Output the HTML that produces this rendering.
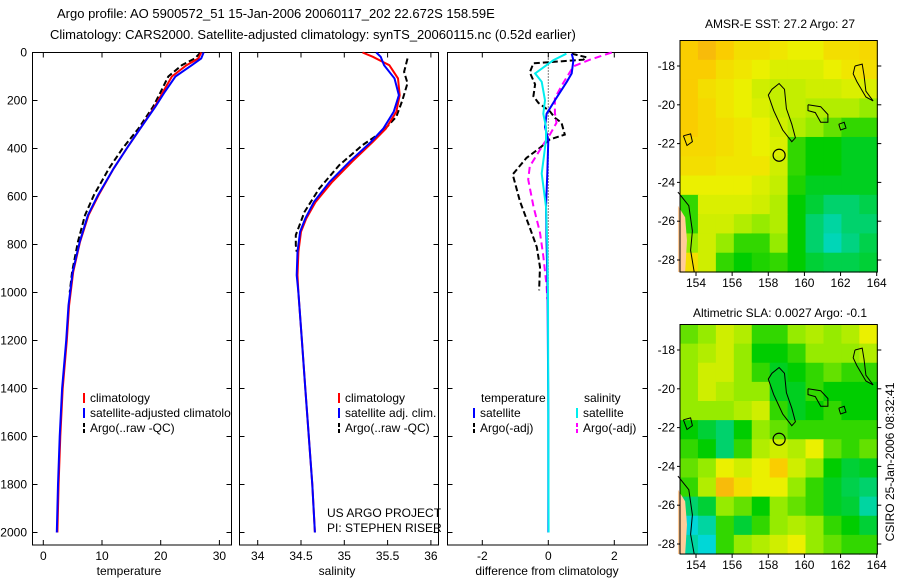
<!DOCTYPE html>
<html><head><meta charset="utf-8"><style>
body{margin:0;background:#fff}
svg{display:block;font-family:"Liberation Sans",sans-serif}
text{fill:#000}
</style></head><body>
<svg id="c" width="900" height="580" viewBox="0 0 900 580">
<text x="57" y="18" font-size="13">Argo profile: AO 5900572_51 15-Jan-2006 20060117_202 22.672S 158.59E</text>
<text x="50" y="39" font-size="13">Climatology: CARS2000. Satellite-adjusted climatology: synTS_20060115.nc (0.52d earlier)</text>
<text x="780" y="28" font-size="12" text-anchor="middle">AMSR-E SST: 27.2 Argo: 27</text>
<text x="780" y="317" font-size="12" text-anchor="middle">Altimetric SLA: 0.0027 Argo: -0.1</text>
<text transform="translate(894,462) rotate(-90)" font-size="12" text-anchor="middle">CSIRO 25-Jan-2006 08:32:41</text>
<text x="129" y="575" font-size="12" text-anchor="middle">temperature</text>
<text x="337" y="575" font-size="12" text-anchor="middle">salinity</text>
<text x="547" y="575" font-size="12" text-anchor="middle">difference from climatology</text>
<text x="327" y="517" font-size="12">US ARGO PROJECT</text>
<text x="327" y="532" font-size="12">PI: STEPHEN RISER</text>
</svg>
<script>
// ---- profile data ----
const tDepth=[0,25,53,100,164,226,317,400,483,595,678,789,914,1053,1200,1400,1600,1800,2000];
const tClim=[26.9,26.4,24.4,21.9,20.4,19.0,16.5,14.2,12.0,9.4,7.7,6.25,5.1,4.4,4.0,3.3,2.9,2.6,2.4];
const tSat=[27.3,26.9,25.3,22.5,20.7,19.1,16.5,14.2,12.0,9.3,7.6,6.2,5.0,4.3,3.9,3.2,2.8,2.5,2.3];
const tArgoDepth=[0,25,53,100,164,226,317,400,483,595,678,789,914,1000];
const tArgo=[26.8,25.8,23.6,21.3,20.0,18.7,16.2,13.5,11.2,8.6,7.1,5.9,4.9,4.5];
const sDepth=[0,18,53,108,178,247,317,372,455,539,622,692,747,830,928,1000,1200,1400,1600,1800,2000];
const sClim=[35.21,35.33,35.52,35.62,35.64,35.60,35.48,35.33,35.09,34.86,34.67,34.56,34.50,34.47,34.46,34.47,34.51,34.55,34.59,34.63,34.66];
const sSat=[35.37,35.42,35.46,35.58,35.63,35.57,35.45,35.31,35.06,34.83,34.65,34.55,34.49,34.46,34.45,34.47,34.51,34.55,34.59,34.63,34.66];
const sArgoDepth=[25,81,128,200,268,330,386,470,567,664,761,803,830];
const sArgo=[35.73,35.69,35.73,35.67,35.60,35.44,35.21,34.94,34.71,34.54,34.44,34.44,34.45];
const dDepth=[5,32,87,122,199,255,310,365,504,643,800,1000,1500,2000];
const dTempSat=[0.71,0.76,0.71,0.56,0.20,-0.05,-0.1,0,-0.03,-0.07,-0.05,-0.02,0,0];
const dSalSat=[0.55,0.15,-0.4,-0.2,-0.1,-0.15,-0.07,-0.07,-0.2,-0.07,-0.03,-0.01,0,0.01];
const dTArgoDepth=[5,20,30,37,45,83,133,182,210,245,272,293,342,362,397,439,508,619,730,811,894,991];
const dTArgo=[0.71,1.16,1.06,0.35,-0.45,-0.56,-0.4,-0.45,-0.3,0.05,0.2,0.4,0.5,0.05,-0.25,-0.66,-1.08,-0.86,-0.56,-0.35,-0.25,-0.28];
const dSArgoDepth=[0,30,58,128,190,252,293,342,383,474,529,640,751,848,973,1028];
const dSArgo=[1.92,1.26,0.76,0.45,0.2,0.2,0.25,0.05,-0.15,-0.56,-0.61,-0.45,-0.25,-0.15,-0.05,-0.03];
const depthTicks=[0,200,400,600,800,1000,1200,1400,1600,1800,2000];
const tTicks=[0,10,20,30];
const sTicks=[34,34.5,35,35.5,36];
const dTicks=[-2,0,2];
// ---- map data (0..1 colour index, rows top->bottom) ----
const sstGrid=[
[0.85,0.9,0.85,0.8,0.8,0.78,0.75,0.75,0.8,0.8,0.82],
[0.85,0.85,0.8,0.78,0.75,0.72,0.72,0.72,0.75,0.78,0.8],
[0.85,0.8,0.78,0.75,0.7,0.68,0.68,0.7,0.7,0.72,0.72],
[0.85,0.82,0.78,0.75,0.72,0.68,0.68,0.65,0.65,0.65,0.6],
[0.85,0.82,0.8,0.78,0.75,0.7,0.65,0.6,0.55,0.5,0.5],
[0.82,0.82,0.8,0.78,0.75,0.72,0.5,0.45,0.45,0.42,0.42],
[0.8,0.8,0.78,0.78,0.78,0.7,0.5,0.45,0.45,0.42,0.42],
[0.75,0.75,0.75,0.75,0.72,0.68,0.48,0.42,0.42,0.42,0.42],
[0.5,0.72,0.72,0.72,0.7,0.65,0.45,0.4,0.35,0.35,0.38],
[0.5,0.7,0.7,0.65,0.6,0.65,0.45,0.35,0.3,0.35,0.35],
[0.6,0.7,0.6,0.5,0.5,0.6,0.45,0.35,0.28,0.33,0.38],
[0.8,0.7,0.5,0.45,0.48,0.5,0.45,0.4,0.38,0.38,0.4]];
const slaGrid=[
[0.55,0.6,0.7,0.65,0.5,0.5,0.6,0.65,0.6,0.65,0.75],
[0.6,0.65,0.7,0.6,0.45,0.45,0.5,0.6,0.6,0.6,0.65],
[0.6,0.7,0.7,0.6,0.5,0.42,0.45,0.5,0.55,0.5,0.5],
[0.6,0.7,0.65,0.6,0.6,0.42,0.42,0.5,0.45,0.45,0.45],
[0.6,0.6,0.6,0.65,0.7,0.5,0.42,0.45,0.5,0.45,0.45],
[0.45,0.4,0.35,0.45,0.6,0.55,0.5,0.5,0.5,0.5,0.5],
[0.5,0.45,0.35,0.5,0.65,0.7,0.65,0.75,0.55,0.5,0.55],
[0.55,0.6,0.75,0.7,0.75,0.85,0.7,0.6,0.45,0.4,0.42],
[0.5,0.65,0.9,0.8,0.75,0.75,0.6,0.5,0.42,0.38,0.35],
[0.35,0.4,0.6,0.55,0.45,0.6,0.55,0.5,0.42,0.4,0.3],
[0.25,0.3,0.5,0.4,0.5,0.6,0.65,0.6,0.5,0.45,0.4],
[0.3,0.25,0.5,0.6,0.65,0.7,0.75,0.6,0.55,0.5,0.5]];
const lonTicks=[154,156,158,160,162,164];
const latTicks=[-18,-20,-22,-24,-26,-28];
const argoLon=158.6, argoLat=-22.6;

const NS='http://www.w3.org/2000/svg';
const svg=document.getElementById('c');
function mk(tag,attrs,parent){const e=document.createElementNS(NS,tag);for(const k in attrs)e.setAttribute(k,attrs[k]);(parent||svg).appendChild(e);return e;}

// profile panels
const PT=52.5, PB=545, D0Y=52.5, DPX=0.24;
const yD=d=>D0Y+d*DPX;
function panel(x0,x1,xf,ticks,name){
  const g=mk('g',{});
  
  
  const r=mk('rect',{x:x0,y:PT,width:x1-x0,height:PB-PT,fill:'none',stroke:'#000','stroke-width':1},g);
  
  
  ticks.forEach(t=>{const x=xf(t);
    mk('line',{x1:x,x2:x,y1:PT,y2:PT+5,stroke:'#000'},g);
    mk('line',{x1:x,x2:x,y1:PB,y2:PB-5,stroke:'#000'},g);
    const tx=mk('text',{x:x,y:560,'font-size':12,'text-anchor':'middle'},g);tx.textContent=t;
    
    });
  depthTicks.forEach(d=>{const y=yD(d);
    mk('line',{x1:x0,x2:x0+5,y1:y,y2:y,stroke:'#000'},g);
    mk('line',{x1:x1,x2:x1-5,y1:y,y2:y,stroke:'#000'},g);});
  return {g,xf};
}
function line(p,vals,deps,color,dash,nm,w){
  const pts=vals.map((v,i)=>p.xf(v).toFixed(1)+','+yD(deps[i]).toFixed(1)).join(' ');
  const l=mk('polyline',{points:pts,fill:'none',stroke:color,'stroke-width':w||2,'stroke-dasharray':dash||'none'},p.g);
  
  
}
depthTicks.forEach(d=>{const t=mk('text',{x:27,y:yD(d)+4,'font-size':12,'text-anchor':'end'});t.textContent=d;
  
  });

const p1=panel(32.5,231.5,v=>43.3+v*5.87,tTicks,'temperature-panel');
line(p1,tArgo,tArgoDepth,'#000','6,3','temperature-argo-line');
line(p1,tClim,tDepth,'#f00',null,'temperature-climatology-line');
line(p1,tSat,tDepth,'#00f',null,'temperature-satellite-line');

const p2=panel(239.5,438.5,v=>257.7+(v-34)*86.6,sTicks,'salinity-panel');
line(p2,sArgo,sArgoDepth,'#000','6,3','salinity-argo-line');
line(p2,sClim,sDepth,'#f00',null,'salinity-climatology-line');
line(p2,sSat,sDepth,'#00f',null,'salinity-satellite-line');

const p3=panel(447.5,647.5,v=>548.3+v*33,dTicks,'difference-panel');
mk('line',{x1:548.3,x2:548.3,y1:PT,y2:yD(1000),stroke:'#000','stroke-dasharray':'1,2'},p3.g);
line(p3,dTArgo,dTArgoDepth,'#000','6,3','temp-argo-diff-line');
line(p3,dSArgo,dSArgoDepth,'#f0f','7,4','sal-argo-diff-line');
line(p3,dTempSat,dDepth,'#00f',null,'temp-satellite-diff-line');
line(p3,dSalSat,dDepth,'#0ee',null,'sal-satellite-diff-line');

// legends
function leg(x,y,color,dash,label,nm){
  const g=mk('g',{});
  
  
  mk('line',{x1:x,x2:x,y1:y-9,y2:y+1,stroke:color,'stroke-width':2,'stroke-dasharray':dash||'none'},g);
  const t=mk('text',{x:x+6,y:y,'font-size':12},g);t.textContent=label;
}
const clip=mk('clipPath',{id:'cl1'});mk('rect',{x:32,y:52,width:200,height:494},clip);
leg(84,402,'#f00',null,'climatology','legend-temp-climatology');
const lg=mk('g',{'clip-path':'url(#cl1)'});


mk('line',{x1:84,x2:84,y1:408,y2:418,stroke:'#00f','stroke-width':2},lg);
const lt=mk('text',{x:90,y:417,'font-size':12},lg);lt.textContent='satellite-adjusted climatology';
leg(84,432,'#000','4,2','Argo(..raw -QC)','legend-temp-argo');
leg(339,402,'#f00',null,'climatology','legend-sal-climatology');
leg(339,417,'#00f',null,'satellite adj. clim.','legend-sal-satellite');
leg(339,432,'#000','4,2','Argo(..raw -QC)','legend-sal-argo');
const th=mk('text',{x:481,y:402,'font-size':12});th.textContent='temperature';


const sh=mk('text',{x:584,y:402,'font-size':12});sh.textContent='salinity';


leg(474,417,'#00f',null,'satellite','legend-temp-sat-diff');
leg(474,432,'#000','4,2','Argo(-adj)','legend-temp-argo-diff');
leg(577,417,'#0ee',null,'satellite','legend-sal-sat-diff');
leg(577,432,'#f0f','4,2','Argo(-adj)','legend-sal-argo-diff');

// maps
const stops=[[0,[0,90,255]],[0.25,[0,215,215]],[0.45,[0,205,0]],[0.6,[150,235,0]],[0.75,[235,240,0]],[0.85,[250,205,0]],[1,[245,150,30]]];
function cmap(v){for(let i=1;i<stops.length;i++){if(v<=stops[i][0]){const a=stops[i-1],b=stops[i];const f=(v-a[0])/(b[0]-a[0]);
  return 'rgb('+a[1].map((c,k)=>Math.round(c+(b[1][k]-c)*f)).join(',')+')';}}return 'rgb(245,150,30)';}
const islands=[
 [[158.2,-19.2],[158.6,-18.9],[158.9,-19.2],[159.0,-20.2],[159.3,-21.0],[159.5,-21.7],[159.3,-21.9],[158.8,-21.3],[158.3,-20.3],[158.0,-19.5],[158.2,-19.2]],
 [[160.2,-20.0],[160.9,-20.1],[161.3,-20.5],[161.3,-20.9],[160.9,-20.9],[160.6,-20.4],[160.2,-20.3],[160.2,-20.0]],
 [[162.8,-18.0],[163.2,-17.9],[163.3,-18.5],[163.4,-19.3],[163.8,-19.8],[163.4,-19.6],[162.9,-18.8],[162.7,-18.4],[162.8,-18.0]],
 [[161.9,-21.0],[162.2,-20.9],[162.3,-21.2],[162.0,-21.3],[161.9,-21.0]],
 [[153.3,-21.6],[153.7,-21.5],[153.8,-21.9],[153.5,-22.1],[153.3,-21.6]],
 [[153.0,-24.5],[153.6,-25.2],[153.8,-26.5],[153.7,-27.5],[153.9,-28.8]]];
function map(top,bot,grid,name){
  const g=mk('g',{});
  
  
  const L=680,R=877.3;
  const lonX=l=>696+(l-154)*18.07;
  const lat18=top+25.5;
  const latY=a=>lat18+(-18-a)*19.4;
  const rows=grid.length, cols=grid[0].length, cw=(R-L)/cols, ch=(bot-top)/rows;
  grid.forEach((row,r)=>row.forEach((v,c)=>{
    const cell=mk('rect',{x:(L+c*cw).toFixed(2),y:(top+r*ch).toFixed(2),width:(cw+0.6).toFixed(2),height:(ch+0.6).toFixed(2),fill:cmap(v)},g);
    
    
  }));
  mk('polygon',{points:[[153.0,-25.2],[153.4,-25.8],[153.5,-27],[153.4,-28.8],[153.0,-28.8]].map(p=>lonX(p[0])+','+Math.min(bot,latY(p[1]))).join(' '),fill:'#fc9'},g);
  islands.forEach(isl=>mk('polyline',{points:isl.map(p=>lonX(p[0]).toFixed(1)+','+Math.min(bot,latY(p[1])).toFixed(1)).join(' '),fill:'none',stroke:'#000','stroke-width':1},g));
  const ci=mk('circle',{cx:lonX(argoLon),cy:latY(argoLat),r:6,fill:'none',stroke:'#000','stroke-width':1.2},g);
  
  
  mk('rect',{x:L,y:top,width:R-L,height:bot-top,fill:'none',stroke:'#000'},g);
  lonTicks.forEach(l=>{const x=lonX(l);mk('line',{x1:x,x2:x,y1:bot,y2:bot+4,stroke:'#000'},g);
    const t=mk('text',{x:x,y:bot+15,'font-size':12,'text-anchor':'middle'},g);t.textContent=l;
    
    });
  latTicks.forEach(a=>{const y=latY(a);mk('line',{x1:R,x2:R+4,y1:y,y2:y,stroke:'#000'},g);
    mk('line',{x1:L,x2:L-3,y1:y,y2:y,stroke:'#000'},g);
    const t=mk('text',{x:675,y:y+4,'font-size':12,'text-anchor':'end'},g);t.textContent=a;
    
    });
}
map(40.5,272,sstGrid,'sst-map');
map(324.5,554,slaGrid,'sla-map');
</script>
</body></html>
